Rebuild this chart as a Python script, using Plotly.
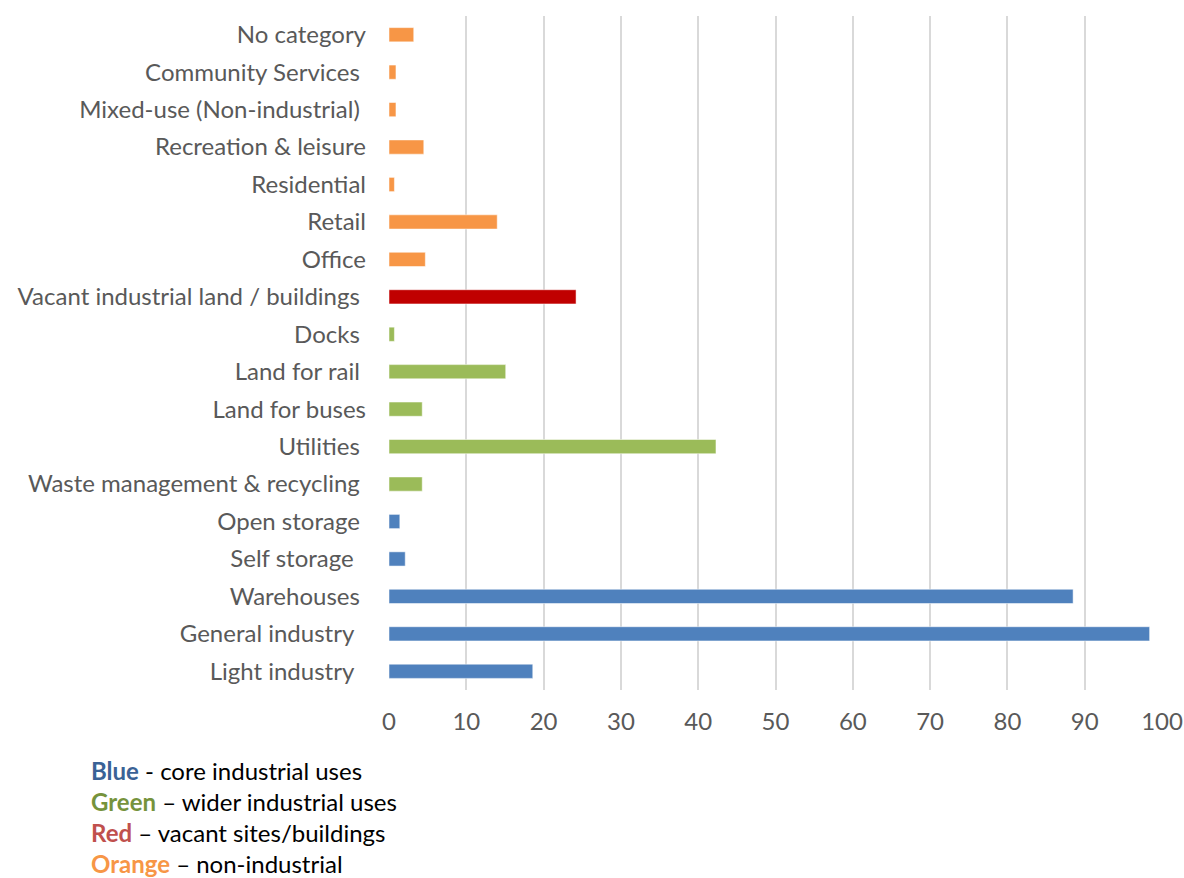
import plotly.graph_objects as go

categories = [
    "Light industry  ", "General industry  ", "Warehouses ", "Self storage  ", "Open storage ",
    "Waste management & recycling ", "Utilities ", "Land for buses", "Land for rail ", "Docks ",
    "Vacant industrial land / buildings ", "Office", "Retail", "Residential",
    "Recreation & leisure", "Mixed-use (Non-industrial) ", "Community Services ", "No category",
]
values = [18.6, 98.4, 88.5, 2.1, 1.4, 4.3, 42.3, 4.3, 15.1, 0.7, 24.2, 4.7, 14.0, 0.7, 4.5, 0.9, 0.9, 3.2]
groups = ["core"] * 5 + ["wider"] * 5 + ["vacant"] + ["non"] * 7

group_colors = {"core": "#4F81BD", "wider": "#9BBB59", "vacant": "#C00000", "non": "#F79646"}
x_ticks = [0, 10, 20, 30, 40, 50, 60, 70, 80, 90, 100]

legend_lines = [
    ("Blue", "#3A6296", " - core industrial uses"),
    ("Green", "#76933C", " – wider industrial uses"),
    ("Red", "#C0504D", " – vacant sites/buildings"),
    ("Orange", "#F79646", " – non-industrial"),
]

W, H = 1184, 878
L, R, T, B = 389, 22, 16, 188
plot_w = W - L - R
plot_h = H - T - B

fig = go.Figure(go.Bar(
    x=values, y=categories, orientation="h",
    marker=dict(color=[group_colors[g] for g in groups],
                line=dict(color="rgba(255,255,255,0.5)", width=1)),
    width=0.38,
))

tick_font = dict(family="Lato, Open Sans, sans-serif", size=24, color="#595959")

fig.update_layout(
    width=W, height=H,
    margin=dict(l=L, r=R, t=T, b=B, autoexpand=False),
    plot_bgcolor="white", paper_bgcolor="white",
    showlegend=False,
    xaxis=dict(range=[0, 100], tickvals=x_ticks, showgrid=True, gridcolor="#D9D9D9",
               gridwidth=2, zeroline=False, tickfont=tick_font, ticklabelstandoff=15,
               ticklabeloverflow="allow", showline=False, fixedrange=True),
    yaxis=dict(categoryorder="array", categoryarray=categories, range=[-0.5, len(categories) - 0.5],
               tickfont=tick_font, showgrid=False, zeroline=False, showline=False,
               ticklabelstandoff=22, ticklabeloverflow="allow"),
)

for i, (word, col, rest) in enumerate(legend_lines):
    ypix = 770 + 31 * i
    fig.add_annotation(
        xref="paper", yref="paper",
        x=(89 - L) / plot_w,
        y=(H - B - ypix) / plot_h,
        xanchor="left", yanchor="middle",
        text=f"<b><span style='color:{col}'>{word}</span></b><span style='color:#000000'>{rest}</span>",
        showarrow=False,
        font=dict(family="Lato, Open Sans, sans-serif", size=24, color="#000000"),
    )

fig.write_html(
    "out.html",
    config={"displayModeBar": False},
    post_script="document.body.style.margin='0';document.body.style.overflow='hidden';",
)
